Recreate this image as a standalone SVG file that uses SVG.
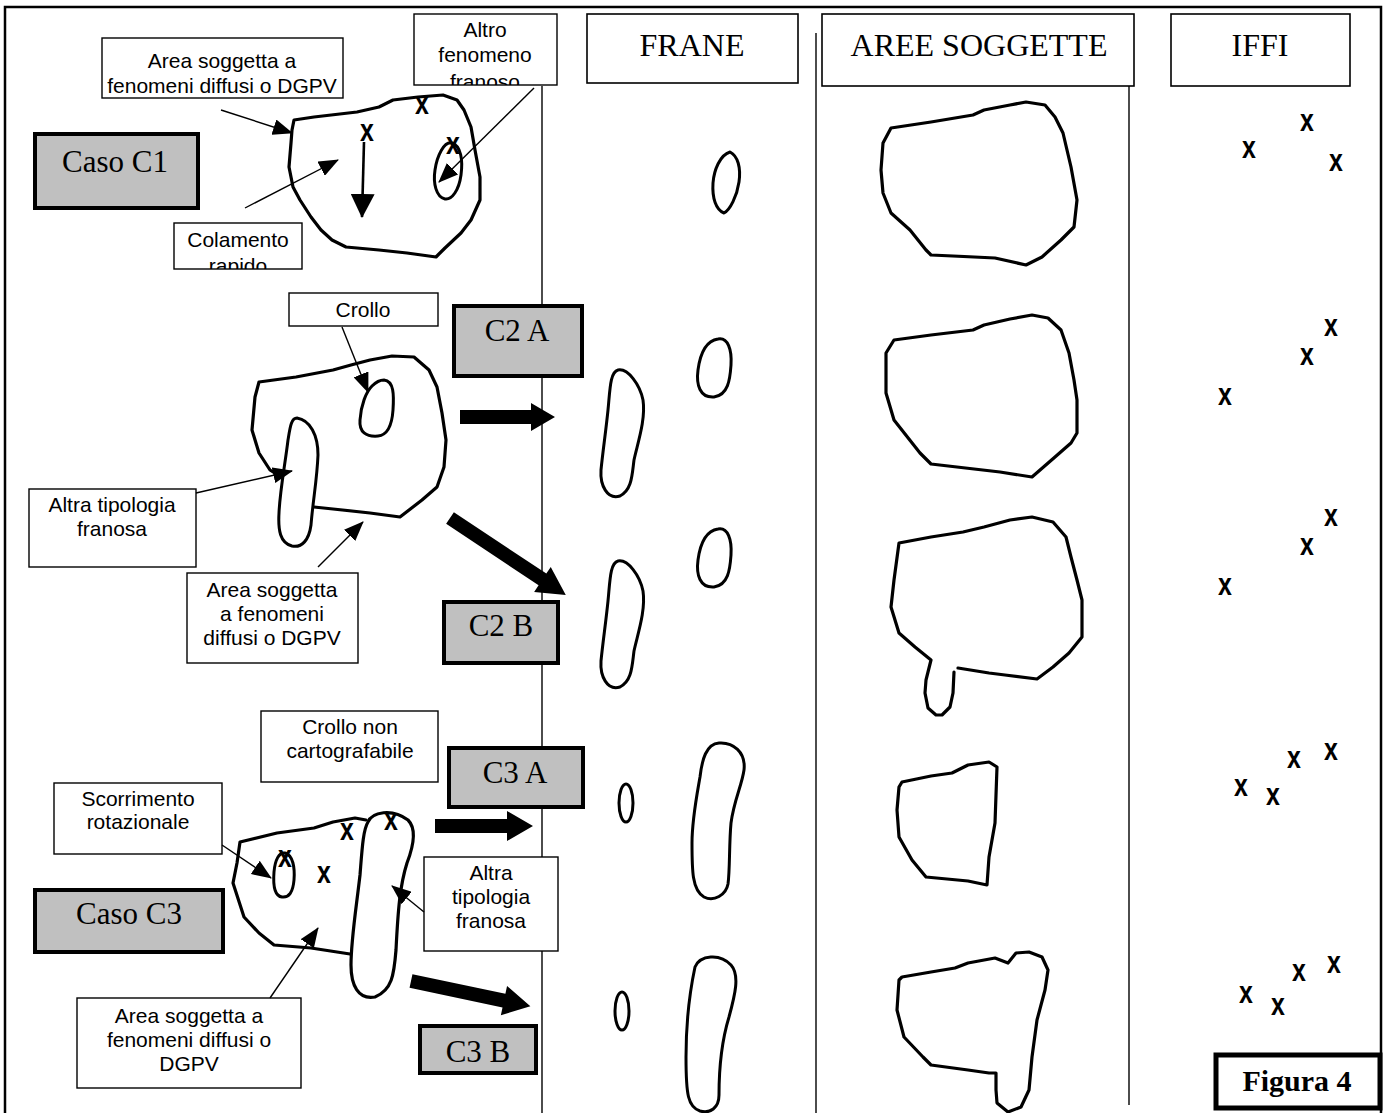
<svg xmlns="http://www.w3.org/2000/svg" width="1391" height="1113" viewBox="0 0 1391 1113">
<style>
.frame{fill:none;stroke:#000;stroke-width:2.5}
.vl{fill:none;stroke:#000;stroke-width:1.4}
.box{fill:#fff;stroke:#000;stroke-width:1.4}
.hbox{fill:#fff;stroke:#000;stroke-width:1.6}
.gbox{fill:#c0c0c0;stroke:#000;stroke-width:4}
.fbox{fill:#fff;stroke:#000;stroke-width:5}
.t{font-family:"Liberation Sans",Arial,sans-serif;font-size:21px;fill:#000;text-anchor:middle}
.ser{font-family:"Liberation Serif","Times New Roman",serif;font-size:32px;fill:#000;text-anchor:middle}
.gser{font-family:"Liberation Serif","Times New Roman",serif;font-size:31px;fill:#000;text-anchor:middle}
.fig{font-family:"Liberation Serif","Times New Roman",serif;font-size:30px;font-weight:bold;fill:#000;text-anchor:middle}
.xm{font-family:"Liberation Sans",Arial,sans-serif;font-size:32px;font-weight:bold;fill:#000;text-anchor:middle}
.blob{fill:none;stroke:#000;stroke-width:3.2;stroke-linejoin:round;stroke-linecap:round}
.oval{fill:none;stroke:#000;stroke-width:3;stroke-linejoin:round;stroke-linecap:round}
.lead{fill:none;stroke:#000;stroke-width:1.4;marker-end:url(#ah)}
.big{fill:#000}
</style>
<defs>
<marker id="ah" markerUnits="userSpaceOnUse" markerWidth="20" markerHeight="16" refX="19" refY="8" orient="auto">
<path d="M0,0 L20,8 L0,16 z" fill="#000"/>
</marker>
<marker id="ahb" markerUnits="userSpaceOnUse" markerWidth="24" markerHeight="24" refX="23" refY="12" orient="auto">
<path d="M0,0 L24,12 L0,24 z" fill="#000"/>
</marker>
<clipPath id="clipAltro"><rect x="414" y="14" width="143" height="71"/></clipPath>
<clipPath id="clipCol"><rect x="174" y="223" width="128" height="46"/></clipPath>
<path id="franeTall" class="oval" d="M618,370 C628,368 640,385 643,400 C646,420 637,445 634,460 C632,475 632,490 620,496 C607,500 600,485 601,470 C603,450 606,430 608,410 C610,390 610,372 618,370 Z"/>
<path id="franeSmall" class="oval" d="M718,339 C728,337 732,350 731,365 C730,380 728,395 714,397 C700,398 696,385 698,370 C700,355 705,341 718,339 Z"/>
</defs>

<g id="frame">
<path class="frame" d="M5,1113 L5,7 L1381,7 L1381,1113"/>
</g>

<g id="columns">
<line class="vl" x1="542" y1="86" x2="542" y2="1113"/>
<line class="vl" x1="816" y1="33" x2="816" y2="1113"/>
<line class="vl" x1="1129" y1="86" x2="1129" y2="1105"/>
</g>

<g id="header-frane">
<rect class="hbox" x="587" y="14" width="211" height="69"/>
<text class="ser" x="692" y="56">FRANE</text>
</g>
<g id="header-aree">
<rect class="hbox" x="822" y="14" width="312" height="72"/>
<text class="ser" x="979" y="56">AREE SOGGETTE</text>
</g>
<g id="header-iffi">
<rect class="hbox" x="1171" y="14" width="179" height="72"/>
<text class="ser" x="1260" y="56">IFFI</text>
</g>

<!-- Case C1 -->
<g id="label-area-c1">
<rect class="box" x="102" y="38" width="241" height="60"/>
<text class="t" x="222" y="68">Area soggetta a</text>
<text class="t" x="222" y="93">fenomeni diffusi o DGPV</text>
</g>
<g id="label-altro">
<rect class="box" x="414" y="14" width="143" height="71"/>
<g clip-path="url(#clipAltro)">
<text class="t" x="485" y="37">Altro</text>
<text class="t" x="485" y="62">fenomeno</text>
<text class="t" x="485" y="89">franoso</text>
</g>
</g>
<g id="caso-c1">
<rect class="gbox" x="35" y="134" width="163" height="74"/>
<text class="gser" x="115" y="172">Caso C1</text>
</g>
<g id="label-colamento">
<rect class="box" x="174" y="223" width="128" height="46"/>
<g clip-path="url(#clipCol)">
<text class="t" x="238" y="247">Colamento</text>
<text class="t" x="238" y="273">rapido</text>
</g>
</g>
<g id="shape-c1">
<path class="blob" d="M294,120 L314,117 L357,112 L379,107 L393,100 L418,97 L443,95 L457,100 L464,110 L471,127 L475,150 L480,177 L480,200 L471,220 L461,233 L445,248 L436,257 L407,253 L379,250 L346,247 L332,240 L321,230 L311,217 L300,200 L293,187 L289,167 L291,143 L292,130 Z"/>
<path class="oval" d="M452,143 C461,146 463,160 461,175 C459,190 452,200 445,199 C436,197 433,183 435,170 C437,156 444,141 452,143 Z"/>
<text class="xm" transform="translate(422,114) scale(0.78,1)">x</text>
<text class="xm" transform="translate(367,141) scale(0.78,1)">x</text>
<text class="xm" transform="translate(453,154) scale(0.78,1)">x</text>
<line x1="364" y1="142" x2="362" y2="217" stroke="#000" stroke-width="2.6" marker-end="url(#ahb)"/>
</g>

<!-- Case C2 -->
<g id="label-crollo">
<rect class="box" x="289" y="293" width="149" height="33"/>
<text class="t" x="363" y="317">Crollo</text>
</g>
<g id="c2a">
<rect class="gbox" x="454" y="306" width="128" height="70"/>
<text class="gser" x="517" y="341">C2 A</text>
</g>
<g id="shape-c2">
<path class="blob" d="M281,477 L270,470 L259,453 L252,430 L255,397 L259,382 L296,377 L333,370 L351,365 L370,360 L392,356 L414,357 L429,370 L437,387 L442,413 L446,440 L444,467 L437,487 L422,500 L400,517 L370,513 L333,509 L314,507"/>
<path class="oval" d="M297,418 C310,420 318,435 318,455 C317,480 313,500 311,525 C309,540 302,548 292,546 C280,543 278,530 279,513 C280,490 285,465 288,440 C290,428 291,418 297,418 Z"/>
<path class="oval" d="M384,380 C394,381 394,395 393,410 C392,425 388,435 378,436 C366,437 359,432 360,420 C361,405 366,392 372,386 C376,382 380,380 384,380 Z"/>
</g>
<g id="label-altra-c2">
<rect class="box" x="29" y="489" width="167" height="78"/>
<text class="t" x="112" y="512">Altra tipologia</text>
<text class="t" x="112" y="536">franosa</text>
</g>
<g id="label-area-c2">
<rect class="box" x="187" y="573" width="171" height="90"/>
<text class="t" x="272" y="597">Area soggetta</text>
<text class="t" x="272" y="621">a fenomeni</text>
<text class="t" x="272" y="645">diffusi o DGPV</text>
</g>
<g id="c2b">
<rect class="gbox" x="444" y="602" width="114" height="61"/>
<text class="gser" x="501" y="636">C2 B</text>
</g>

<!-- Case C3 -->
<g id="label-crollo-nc">
<rect class="box" x="261" y="711" width="177" height="71"/>
<text class="t" x="350" y="734">Crollo non</text>
<text class="t" x="350" y="758">cartografabile</text>
</g>
<g id="c3a">
<rect class="gbox" x="449" y="748" width="134" height="59"/>
<text class="gser" x="515" y="783">C3 A</text>
</g>
<g id="label-scorrimento">
<rect class="box" x="54" y="783" width="168" height="71"/>
<text class="t" x="138" y="806">Scorrimento</text>
<text class="t" x="138" y="829">rotazionale</text>
</g>
<g id="shape-c3">
<path class="blob" d="M350,954 L311,948 L274,945 L259,933 L244,917 L233,883 L237,863 L240,842 L277,833 L314,828 L333,822 L355,818 L366,820"/>
<path class="blob" d="M368,822 C372,812 392,808 408,820 C418,830 412,850 407,863 C400,885 398,910 396,950 C394,975 392,990 375,997 C358,1000 351,985 351,965 C351,940 356,910 360,875 C362,850 363,830 368,822 Z"/>
<path class="oval" d="M285,853 C293,855 295,868 294,880 C293,892 289,898 282,897 C274,896 273,885 274,872 C275,860 279,852 285,853 Z"/>
<text class="xm" transform="translate(347,840) scale(0.78,1)">x</text>
<text class="xm" transform="translate(391,830) scale(0.78,1)">x</text>
<text class="xm" transform="translate(324,883) scale(0.78,1)">x</text>
<text class="xm" transform="translate(285,867) scale(0.78,1)">x</text>
</g>
<g id="label-altra-c3">
<rect class="box" x="424" y="857" width="134" height="94"/>
<text class="t" x="491" y="880">Altra</text>
<text class="t" x="491" y="904">tipologia</text>
<text class="t" x="491" y="928">franosa</text>
</g>
<g id="caso-c3">
<rect class="gbox" x="35" y="890" width="188" height="62"/>
<text class="gser" x="129" y="924">Caso C3</text>
</g>
<g id="label-area-c3">
<rect class="box" x="77" y="998" width="224" height="90"/>
<text class="t" x="189" y="1023">Area soggetta a</text>
<text class="t" x="189" y="1047">fenomeni diffusi o</text>
<text class="t" x="189" y="1071">DGPV</text>
</g>
<g id="c3b">
<rect class="gbox" x="420" y="1026" width="116" height="47"/>
<text class="gser" x="478" y="1062">C3 B</text>
</g>

<!-- FRANE column -->
<g id="frane-shapes">
<path class="oval" d="M730,152 C738,156 741,168 739,182 C737,196 730,210 724,213 C716,210 712,198 713,183 C714,170 720,155 730,152 Z"/>
<use href="#franeSmall"/>
<use href="#franeTall"/>
<use href="#franeSmall" transform="translate(0,190)"/>
<use href="#franeTall" transform="translate(0,191)"/>
<ellipse class="oval" cx="626" cy="803" rx="7" ry="19"/>
<path class="oval" d="M700,777 C702,760 706,744 719,743 C733,742 746,752 744,770 C742,785 734,800 731,823 C729,845 730,870 728,884 C726,895 714,902 704,897 C692,890 692,870 692,843 C692,820 696,800 700,777 Z"/>
<ellipse class="oval" cx="622" cy="1011" rx="7" ry="19"/>
<path class="oval" d="M695,967 C700,955 720,953 731,965 C740,975 735,995 729,1017 C722,1040 719,1065 719,1095 C719,1108 710,1114 700,1111 C688,1107 686,1095 686,1057 C686,1030 688,1000 695,967 Z"/>
</g>

<!-- AREE SOGGETTE column -->
<g id="aree-shapes">
<path class="blob" d="M891,128 L931,122 L973,115 L984,110 L1010,105 L1026,102 L1045,105 L1055,117 L1063,133 L1071,167 L1077,200 L1074,227 L1061,240 L1042,257 L1026,265 L995,258 L931,255 L926,250 L910,230 L891,213 L883,193 L881,170 L883,143 Z"/>
<path class="blob" d="M894,340 L931,335 L973,330 L984,325 L1010,319 L1032,315 L1048,318 L1061,330 L1069,353 L1074,380 L1077,400 L1077,433 L1071,443 L1055,457 L1032,477 L1000,472 L931,464 L920,453 L894,420 L886,393 L886,353 Z"/>
<path class="blob" d="M958,668 L989,673 L1005,675 L1037,679 L1053,667 L1069,653 L1082,637 L1082,600 L1077,580 L1071,557 L1066,537 L1053,522 L1032,517 L1010,520 L984,527 L963,532 L931,537 L899,543 L894,580 L891,607 L899,633 L915,647 L931,660 L926,680 L925,693 L928,708 L936,715 L942,715 L950,707 L953,693 L954,672"/>
<path class="blob" d="M902,782 L931,776 L952,773 L968,765 L989,762 L997,767 L995,823 L989,857 L987,885 L968,881 L926,877 L912,860 L899,837 L897,810 L899,787 Z"/>
<path class="blob" d="M902,977 L931,972 L955,968 L968,963 L995,958 L1008,963 L1016,953 L1029,952 L1042,957 L1048,970 L1045,990 L1037,1020 L1032,1057 L1029,1090 L1021,1107 L1008,1112 L997,1103 L996,1090 L996,1073 L989,1073 L968,1070 L931,1065 L923,1057 L904,1037 L897,1010 L899,980 Z"/>
</g>

<!-- IFFI column -->
<g id="iffi-marks">
<text class="xm" transform="translate(1307,131) scale(0.78,1)">x</text>
<text class="xm" transform="translate(1249,158) scale(0.78,1)">x</text>
<text class="xm" transform="translate(1336,171) scale(0.78,1)">x</text>
<text class="xm" transform="translate(1331,336) scale(0.78,1)">x</text>
<text class="xm" transform="translate(1307,365) scale(0.78,1)">x</text>
<text class="xm" transform="translate(1225,405) scale(0.78,1)">x</text>
<text class="xm" transform="translate(1331,526) scale(0.78,1)">x</text>
<text class="xm" transform="translate(1307,555) scale(0.78,1)">x</text>
<text class="xm" transform="translate(1225,595) scale(0.78,1)">x</text>
<text class="xm" transform="translate(1331,760) scale(0.78,1)">x</text>
<text class="xm" transform="translate(1294,768) scale(0.78,1)">x</text>
<text class="xm" transform="translate(1241,796) scale(0.78,1)">x</text>
<text class="xm" transform="translate(1273,805) scale(0.78,1)">x</text>
<text class="xm" transform="translate(1334,973) scale(0.78,1)">x</text>
<text class="xm" transform="translate(1299,981) scale(0.78,1)">x</text>
<text class="xm" transform="translate(1246,1003) scale(0.78,1)">x</text>
<text class="xm" transform="translate(1278,1015) scale(0.78,1)">x</text>
</g>

<g id="figura4">
<rect class="fbox" x="1216" y="1055" width="164" height="53"/>
<text class="fig" x="1297" y="1091">Figura 4</text>
</g>

<!-- connectors -->
<g id="connectors">
<line class="lead" x1="221" y1="110" x2="292" y2="133"/>
<line class="lead" x1="245" y1="208" x2="338" y2="160"/>
<line class="lead" x1="534" y1="88" x2="439" y2="182"/>
<line class="lead" x1="342" y1="327" x2="368" y2="392"/>
<line class="lead" x1="196" y1="493" x2="292" y2="471"/>
<line class="lead" x1="318" y1="567" x2="363" y2="522"/>
<line class="lead" x1="222" y1="845" x2="271" y2="878"/>
<line class="lead" x1="270" y1="998" x2="318" y2="928"/>
<line class="lead" x1="424" y1="912" x2="392" y2="886"/>
<polygon class="big" points="460,410 531,410 531,403 555,417 531,431 531,424 460,424"/>
<polygon class="big" transform="translate(450,518) rotate(33.6)" points="0,-7 111,-7 111,-15 139,0 111,15 111,7 0,7"/>
<polygon class="big" points="435,819 507,819 507,811 533,826 507,841 507,833 435,833"/>
<polygon class="big" transform="translate(411,981) rotate(11.9)" points="0,-7 95,-7 95,-15 122,0 95,15 95,7 0,7"/>
</g>
</svg>
